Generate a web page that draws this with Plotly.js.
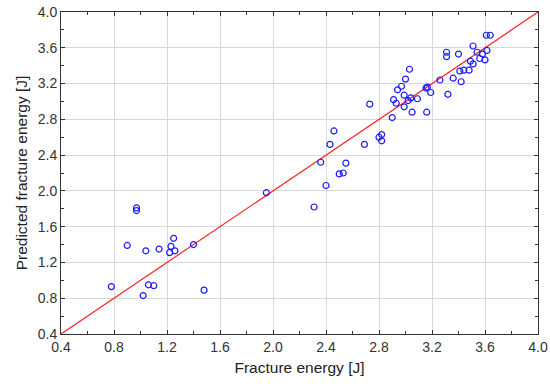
<!DOCTYPE html>
<html>
<head>
<meta charset="utf-8">
<script src="https://cdn.plot.ly/plotly-3.0.1.min.js"></script>
<style>html,body{margin:0;padding:0;background:#fff;}#chart{width:550px;height:389px;}</style>
</head>
<body>
<div id="chart"></div>
<script>
// Measured (x) vs predicted (y) fracture energy [J]
const measured = [
  0.78, 0.90, 0.97, 0.97, 1.02, 1.04, 1.06, 1.10, 1.14, 1.22, 1.23, 1.25, 1.26, 1.40, 1.48,
  1.95,
  2.31, 2.40, 2.36, 2.50, 2.53, 2.55, 2.43, 2.46, 2.69, 2.73, 2.80, 2.82, 2.82, 2.90,
  3.03, 3.00, 2.97, 2.94, 2.99, 2.91, 2.93, 2.99, 3.02, 3.04, 3.09, 3.05, 3.16, 3.155, 3.165, 3.19, 3.26, 3.32, 3.36,
  3.61, 3.64, 3.31, 3.31, 3.40, 3.51, 3.54, 3.58, 3.615, 3.56, 3.60, 3.49, 3.51, 3.41, 3.44, 3.48, 3.42
];
const predicted = [
  0.93, 1.39, 1.81, 1.78, 0.83, 1.33, 0.95, 0.94, 1.35, 1.31, 1.38, 1.47, 1.33, 1.40, 0.89,
  1.98,
  1.82, 2.06, 2.32, 2.19, 2.20, 2.31, 2.52, 2.67, 2.52, 2.97, 2.60, 2.63, 2.56, 2.82,
  3.36, 3.25, 3.17, 3.13, 3.07, 3.02, 2.98, 2.94, 3.01, 3.04, 3.03, 2.88, 2.88, 3.15, 3.16, 3.10, 3.24, 3.08, 3.26,
  3.74, 3.74, 3.55, 3.50, 3.53, 3.62, 3.55, 3.53, 3.57, 3.48, 3.465, 3.45, 3.42, 3.34, 3.35, 3.35, 3.22
];
const lineX = [0.4, 4.0];
const lineY = [0.4, 4.0];
const tickVals = [0.4, 0.8, 1.2, 1.6, 2.0, 2.4, 2.8, 3.2, 3.6, 4.0];
const tickText = ['0.4', '0.8', '1.2', '1.6', '2.0', '2.4', '2.8', '3.2', '3.6', '4.0'];
const xTitle = 'Fracture energy [J]';
const yTitle = 'Predicted fracture energy [J]';

const FONT = 'Liberation Sans, Arial, sans-serif';

const axisCommon = {
  range: [0.4, 4.0],
  tickmode: 'array',
  tickvals: tickVals,
  ticktext: tickText,
  ticks: 'inside',
  ticklen: 4,
  tickwidth: 1,
  tickcolor: '#333',
  mirror: 'ticks',
  showline: true,
  linecolor: '#333',
  linewidth: 1,
  showgrid: true,
  gridcolor: '#d9d9d9',
  gridwidth: 1,
  zeroline: false,
  tickfont: {family: FONT, size: 14, color: '#333'},
  minor: {dtick: 0.2, tick0: 0.4, ticks: 'inside', ticklen: 3, tickcolor: '#333', showgrid: false}
};

const data = [
  {
    x: lineX, y: lineY, type: 'scatter', mode: 'lines',
    line: {color: '#ff2020', width: 1.2}, hoverinfo: 'skip'
  },
  {
    x: measured, y: predicted, type: 'scatter', mode: 'markers',
    marker: {symbol: 'circle-open', size: 6, color: '#1a1aff', line: {width: 1.2, color: '#1a1aff'}}
  }
];

const layout = {
  width: 550, height: 389,
  margin: {l: 61, r: 12, t: 12, b: 55},
  paper_bgcolor: '#fff', plot_bgcolor: '#fff',
  showlegend: false,
  xaxis: Object.assign({}, axisCommon, {
    title: {text: xTitle, font: {family: FONT, size: 15.5, color: '#222'}, standoff: 8}
  }),
  yaxis: Object.assign({}, axisCommon, {
    title: {text: yTitle, font: {family: FONT, size: 15.5, color: '#222'}, standoff: 6}
  })
};

Plotly.newPlot('chart', data, layout, {staticPlot: true, displayModeBar: false});
</script>
</body>
</html>
